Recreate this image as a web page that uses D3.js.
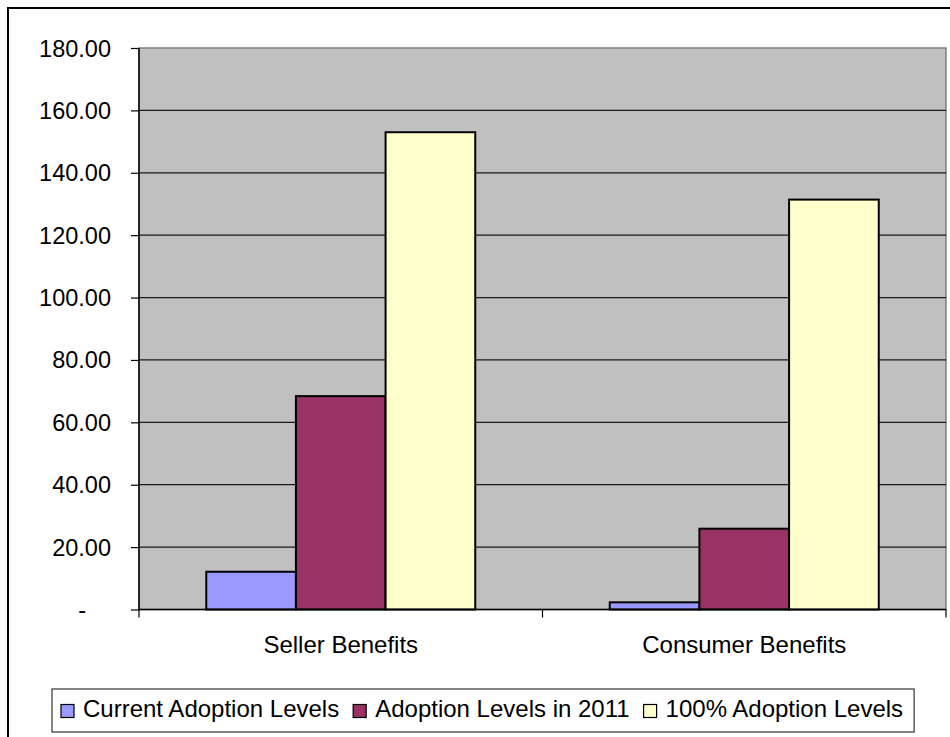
<!DOCTYPE html>
<html>
<head>
<meta charset="utf-8">
<script src="https://cdn.jsdelivr.net/npm/d3@7/dist/d3.min.js"></script>
<style>
  html, body { margin: 0; padding: 0; background: #fff; }
  svg { display: block; }
  text { font-family: "Liberation Sans", Arial, sans-serif; fill: #000; }
</style>
</head>
<body>
<svg id="chart" width="950" height="737"></svg>
<script>
// ---- data ----
const categories = ["Seller Benefits", "Consumer Benefits"];
const seriesNames = ["Current Adoption Levels", "Adoption Levels in 2011", "100% Adoption Levels"];
const currentAdoption = [12.1, 2.3];
const adoption2011 = [68.4, 25.9];
const fullAdoption = [153.0, 131.4];
const yTicks = [0, 20, 40, 60, 80, 100, 120, 140, 160, 180];
const seriesColors = ["#9999FF", "#993366", "#FFFFCC"];

const seriesValues = [currentAdoption, adoption2011, fullAdoption];
const table = categories.map((c, i) => ({
  category: c,
  values: seriesNames.map((s, j) => ({ series: s, value: seriesValues[j][i], idx: j }))
}));

// ---- layout ----
const svg = d3.select("#chart");
const W = 950, H = 737;
const plot = { left: 139, right: 946, top: 48, bottom: 609.5 };
const fontSize = 23.5;
const legendFont = 24;

// outer border
svg.append("rect")
  .attr("x", 8).attr("y", 8)
  .attr("width", W + 10).attr("height", H + 10)
  .attr("fill", "#fff").attr("stroke", "#000").attr("stroke-width", 2);

const x0 = d3.scaleBand().domain(categories).range([plot.left, plot.right]).padding(0);
const x1 = d3.scaleBand().domain(seriesNames).range([0, x0.bandwidth()])
  .paddingInner(0).paddingOuter(0.75);
const y = d3.scaleLinear().domain([0, 180]).range([plot.bottom, plot.top]);

// plot area background
svg.append("rect")
  .attr("x", plot.left).attr("y", plot.top)
  .attr("width", plot.right - plot.left).attr("height", plot.bottom - plot.top)
  .attr("fill", "#C0C0C0").attr("stroke", "#808080").attr("stroke-width", 1.5);

// gridlines
svg.append("g").selectAll("line")
  .data(yTicks.filter(t => t > 0 && t < 180))
  .join("line")
  .attr("x1", plot.left).attr("x2", plot.right)
  .attr("y1", d => y(d)).attr("y2", d => y(d))
  .attr("stroke", "#1a1a1a").attr("stroke-width", 1.2);

// bars
const groups = svg.append("g").selectAll("g")
  .data(table).join("g")
  .attr("transform", d => `translate(${x0(d.category)},0)`);
groups.selectAll("rect")
  .data(d => d.values).join("rect")
  .attr("x", d => x1(d.series))
  .attr("width", x1.bandwidth())
  .attr("y", d => y(d.value))
  .attr("height", d => y(0) - y(d.value))
  .attr("fill", d => seriesColors[d.idx])
  .attr("stroke", "#000").attr("stroke-width", 2);

// y axis
const yAxis = d3.axisLeft(y)
  .tickValues(yTicks)
  .tickSize(8)
  .tickPadding(20)
  .tickFormat(d => d === 0 ? "-" : d3.format(".2f")(d));
const yg = svg.append("g").attr("transform", `translate(${plot.left},0)`).call(yAxis);
yg.select(".domain").attr("stroke", "#000").attr("stroke-width", 1.5)
  .attr("d", `M0,${plot.top}V${plot.bottom}`);
yg.selectAll(".tick line").attr("stroke", "#000").attr("stroke-width", 1.2);
yg.selectAll(".tick text")
  .style("font-size", fontSize + "px")
  .style("font-family", "'Liberation Sans', Arial, sans-serif")
  .attr("fill", "#000")
  .attr("dy", "0.34em")
  .attr("dx", d => d === 0 ? -25 : 0);

// x axis
const xg = svg.append("g").attr("transform", `translate(0,${plot.bottom})`);
xg.append("line")
  .attr("x1", plot.left).attr("x2", plot.right)
  .attr("y1", 0).attr("y2", 0)
  .attr("stroke", "#000").attr("stroke-width", 1.5);
const catEdges = categories.map(c => x0(c)).concat([x0(categories[categories.length - 1]) + x0.bandwidth()]);
xg.selectAll("line.tk").data(catEdges).join("line")
  .attr("class", "tk")
  .attr("x1", d => d).attr("x2", d => d)
  .attr("y1", 0).attr("y2", 8)
  .attr("stroke", "#000").attr("stroke-width", 1.2);
xg.selectAll("text").data(categories).join("text")
  .attr("x", d => x0(d) + x0.bandwidth() / 2)
  .attr("y", 43.5)
  .attr("text-anchor", "middle")
  .style("font-size", legendFont + "px")
  .text(d => d);

// legend
const legend = svg.append("g");
const legendBox = legend.append("rect")
  .attr("x", 52).attr("y", 689).attr("height", 43)
  .attr("fill", "#fff").attr("stroke", "#333").attr("stroke-width", 1.2);
let lx = 61;
seriesNames.forEach((s, i) => {
  legend.append("rect")
    .attr("x", lx).attr("y", 704.5).attr("width", 13).attr("height", 13)
    .attr("fill", seriesColors[i]).attr("stroke", "#000").attr("stroke-width", 1.2);
  const t = legend.append("text")
    .attr("x", lx + 22).attr("y", 717)
    .style("font-size", legendFont + "px")
    .text(s);
  const w = t.node().getComputedTextLength();
  lx = lx + 22 + w + 14;
});
legendBox.attr("width", (lx - 14 + 11) - 52);
</script>
</body>
</html>
